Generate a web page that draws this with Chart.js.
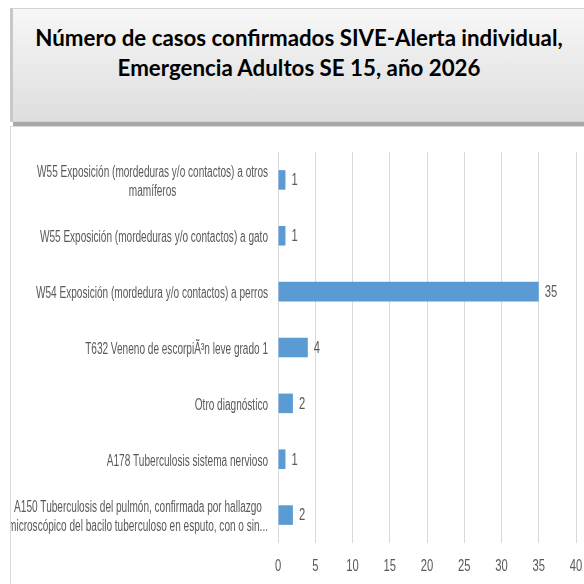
<!DOCTYPE html>
<html>
<head>
<meta charset="utf-8">
<script src="https://cdn.jsdelivr.net/npm/chart.js"></script>
<style>
  html, body { margin: 0; padding: 0; background: #fff; overflow: hidden; width: 584px; height: 584px; }
  #titulo {
    position: absolute; left: 10px; top: 8px; width: 600px; height: 114px;
    box-sizing: border-box; border: 1px solid #d4d4d4; border-left: 3px solid #c8c8c8;
    background: linear-gradient(to bottom, #f7f7f7 0%, #ebebeb 45%, #dedede 100%);
    box-shadow: 3px 4px 0 #a8a8a8;
  }
  #titulo div {
    position: absolute; left: -3px; width: 578px; text-align: center;
    font-family: Lato, "Open Sans", sans-serif; font-weight: bold; font-size: 22.3px; color: #000;
  }
  #caja {
    position: absolute; left: 10px; top: 126px; width: 574px; height: 458px;
    box-sizing: border-box; border-left: 1px solid #d9d9d9; border-top: 1px solid #d9d9d9;
  }
</style>
</head>
<body>
<div id="titulo">
  <div style="top: 15px;">Número de casos confirmados SIVE-Alerta individual,</div>
  <div style="top: 45px;">Emergencia Adultos SE 15, año 2026</div>
</div>
<div id="caja"><canvas id="grafico"></canvas></div>
<script>
// Categorías (de arriba hacia abajo) y valores
const categorias = [
  ["W55 Exposición (mordeduras y/o contactos) a otros", "mamíferos"],
  ["W55 Exposición (mordeduras y/o contactos) a gato"],
  ["W54 Exposición (mordedura y/o contactos) a perros"],
  ["T632 Veneno de escorpiÃ³n leve grado 1"],
  ["Otro diagnóstico"],
  ["A178 Tuberculosis sistema nervioso"],
  ["A150 Tuberculosis del pulmón, confirmada por hallazgo", "microscópico del bacilo tuberculoso en esputo, con o sin..."]
];
const casos = [1, 1, 35, 4, 2, 1, 2];
const ticksX = [0, 5, 10, 15, 20, 25, 30, 35, 40];

const fuente = '16px "Liberation Sans", Arial, sans-serif';
const gris = "#595959";
const compNumeros = 0.7;

// Texto estrecho (la fuente original es condensada)
function compresion(ctx) {
  ctx.font = fuente;
  return 232 / ctx.measureText(categorias[2][0]).width;
}

function textoEstrecho(ctx, txt, x, y, f, align) {
  const w = ctx.measureText(txt).width * f;
  let x0 = x;
  if (align === "right") x0 = x - w;
  if (align === "center") x0 = x - w / 2;
  ctx.save();
  ctx.translate(x0, y);
  ctx.scale(f, 1);
  ctx.textAlign = "left";
  ctx.fillText(txt, 0, 0);
  ctx.restore();
}

// Etiquetas de los ejes y valores de las barras
const textos = {
  id: "textos",
  afterDraw(chart) {
    const ctx = chart.ctx;
    const f = compresion(ctx);
    const sy = chart.scales.y;
    const sx = chart.scales.x;
    const xDer = chart.chartArea.left - 10;
    ctx.save();
    ctx.font = fuente;
    ctx.fillStyle = gris;
    ctx.textBaseline = "middle";

    categorias.forEach((lineas, i) => {
      const centro = sy.getPixelForValue(i) + 2;
      const ancho = Math.max(...lineas.map(l => ctx.measureText(l).width)) * f;
      const alto = 19;
      const y0 = centro - (lineas.length - 1) * alto / 2;
      lineas.forEach((l, j) => {
        textoEstrecho(ctx, l, xDer - ancho / 2, y0 + j * alto, f, "center");
      });
    });

    ticksX.forEach(v => {
      textoEstrecho(ctx, String(v), sx.getPixelForValue(v), chart.chartArea.bottom + 24, compNumeros, "center");
    });

    chart.getDatasetMeta(0).data.forEach((barra, i) => {
      textoEstrecho(ctx, String(casos[i]), barra.x + 6, barra.y + 1, compNumeros, "left");
    });
    ctx.restore();
  }
};

new Chart(document.getElementById("grafico"), {
  type: "bar",
  data: {
    labels: categorias,
    datasets: [{
      data: casos,
      backgroundColor: "#5b9bd5",
      borderWidth: 0,
      barPercentage: 0.35,
      categoryPercentage: 1
    }]
  },
  options: {
    indexAxis: "y",
    responsive: true,
    maintainAspectRatio: false,
    animation: false,
    layout: { padding: { left: 0, top: 25, right: 8, bottom: 0 } },
    plugins: { legend: { display: false }, tooltip: { enabled: false } },
    scales: {
      x: {
        min: 0, max: 40,
        afterBuildTicks: (s) => { s.ticks = ticksX.map(v => ({ value: v })); },
        afterFit: (s) => { s.height = 41; },
        grid: { color: "#d9d9d9", drawTicks: false, lineWidth: 1 },
        border: { display: false },
        ticks: { display: false }
      },
      y: {
        afterFit: (s) => { s.width = 267; },
        grid: { display: false },
        border: { display: false },
        ticks: { display: false }
      }
    }
  },
  plugins: [textos]
});
</script>
</body>
</html>
